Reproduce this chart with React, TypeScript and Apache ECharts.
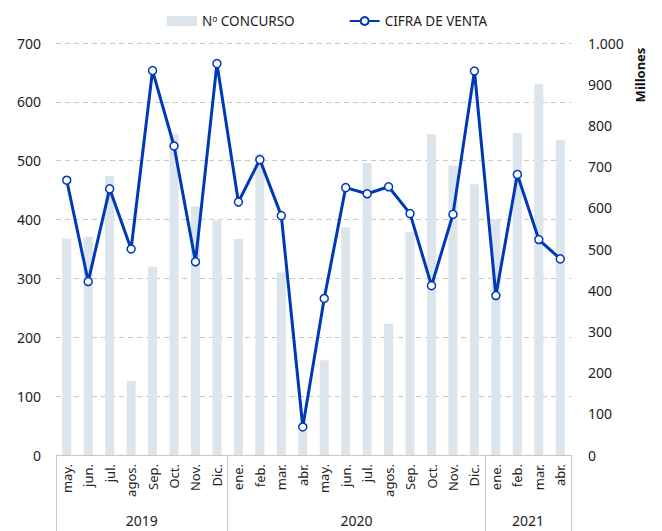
import React, { useEffect, useRef } from "react";
import * as echarts from "echarts";

const months = [
  "may.", "jun.", "jul.", "agos.", "Sep.", "Oct.", "Nov.", "Dic.",
  "ene.", "feb.", "mar.", "abr.", "may.", "jun.", "jul.", "agos.", "Sep.", "Oct.", "Nov.", "Dic.",
  "ene.", "feb.", "mar.", "abr.",
];
const concursos = [
  368, 371, 474, 126, 320, 545, 422, 399,
  367, 512, 310, 40, 161, 387, 496, 223, 379, 545, 492, 460,
  400, 547, 630, 535,
];
const cifraVenta = [
  667, 421, 646, 500, 933, 750, 469, 950,
  614, 717, 581, 68, 380, 649, 634, 651, 586, 411, 584, 932,
  387, 681, 523, 476,
];
// year labels placed at the centre of each year's span (position in category units)
const years = ["2019", "2020", "2021"];
const yearCentres = [4, 14, 22];
const yearBoundaries = [0, 8, 20];

const FONT = "Noto Sans";

export default function App() {
  const ref = useRef<HTMLDivElement>(null);
  useEffect(() => {
    document.body.style.margin = "0";
    const chart = echarts.init(ref.current!, null, { renderer: "svg" });
    chart.setOption({
      animation: false,
      textStyle: { fontFamily: FONT },
      legend: {
        top: 9,
        left: 162,
        itemGap: 54,
        itemWidth: 30,
        itemHeight: 10,
        textStyle: { fontSize: 13.5, color: "#222", fontFamily: FONT },
        data: [
          { name: "Nº CONCURSO", icon: "rect" },
          { name: "CIFRA DE VENTA" },
        ],
      },
      grid: { left: 56, right: 91, top: 43, bottom: 76, containLabel: false },
      xAxis: [
        {
          type: "category",
          data: months,
          position: "bottom",
          axisLine: { show: true, lineStyle: { color: "#c8c8c8", width: 1 } },
          axisTick: {
            show: true,
            length: 80,
            interval: (i: number) => yearBoundaries.includes(i),
            lineStyle: { color: "#c8c8c8" },
          },
          axisLabel: {
            interval: 0,
            rotate: 90,
            margin: 9,
            fontSize: 13,
            color: "#222",
            fontFamily: FONT,
          },
        },
        {
          type: "value",
          min: 0,
          max: 24,
          interval: 1,
          position: "bottom",
          offset: 50,
          axisLine: { show: false },
          axisTick: { show: false },
          splitLine: { show: false },
          axisLabel: {
            margin: 8,
            fontSize: 14,
            color: "#222",
            fontFamily: FONT,
            formatter: (v: number) => {
              const k = yearCentres.indexOf(v);
              return k >= 0 ? years[k] : "";
            },
          },
        },
      ],
      yAxis: [
        {
          type: "value",
          min: 0,
          max: 700,
          interval: 100,
          axisLine: { show: false },
          axisTick: { show: false },
          axisLabel: { margin: 15, fontSize: 14, color: "#222", fontFamily: FONT },
          splitLine: { show: true, lineStyle: { color: "#c8c8c8", type: [5, 4], width: 1 } },
        },
        {
          type: "value",
          min: 0,
          max: 1000,
          interval: 100,
          position: "right",
          axisLine: { show: false },
          axisTick: { show: false },
          splitLine: { show: false },
          axisLabel: {
            margin: 17,
            fontSize: 14,
            color: "#222",
            fontFamily: FONT,
            formatter: (v: number) => (v >= 1000 ? v.toLocaleString("de-DE") : String(v)),
          },
        },
      ],
      graphic: [
        {
          type: "text",
          x: 640,
          y: 75,
          rotation: Math.PI / 2,
          style: {
            text: "Millones",
            fontSize: 13,
            fontWeight: "bold",
            fontFamily: FONT,
            fill: "#111",
            textAlign: "center",
            textVerticalAlign: "middle",
          },
        },
      ],
      series: [
        {
          name: "Nº CONCURSO",
          type: "bar",
          data: concursos,
          barWidth: 9,
          itemStyle: { color: "#DCE4EC" },
          yAxisIndex: 0,
          xAxisIndex: 0,
        },
        {
          name: "CIFRA DE VENTA",
          type: "line",
          data: cifraVenta,
          yAxisIndex: 1,
          xAxisIndex: 0,
          symbol: "circle",
          symbolSize: 8,
          lineStyle: { color: "#0039B8", width: 3 },
          itemStyle: { color: "#ffffff", borderColor: "#0039B8", borderWidth: 1.5 },
        },
      ],
    });
    return () => chart.dispose();
  }, []);
  return <div ref={ref} style={{ width: 662, height: 531 }} />;
}
